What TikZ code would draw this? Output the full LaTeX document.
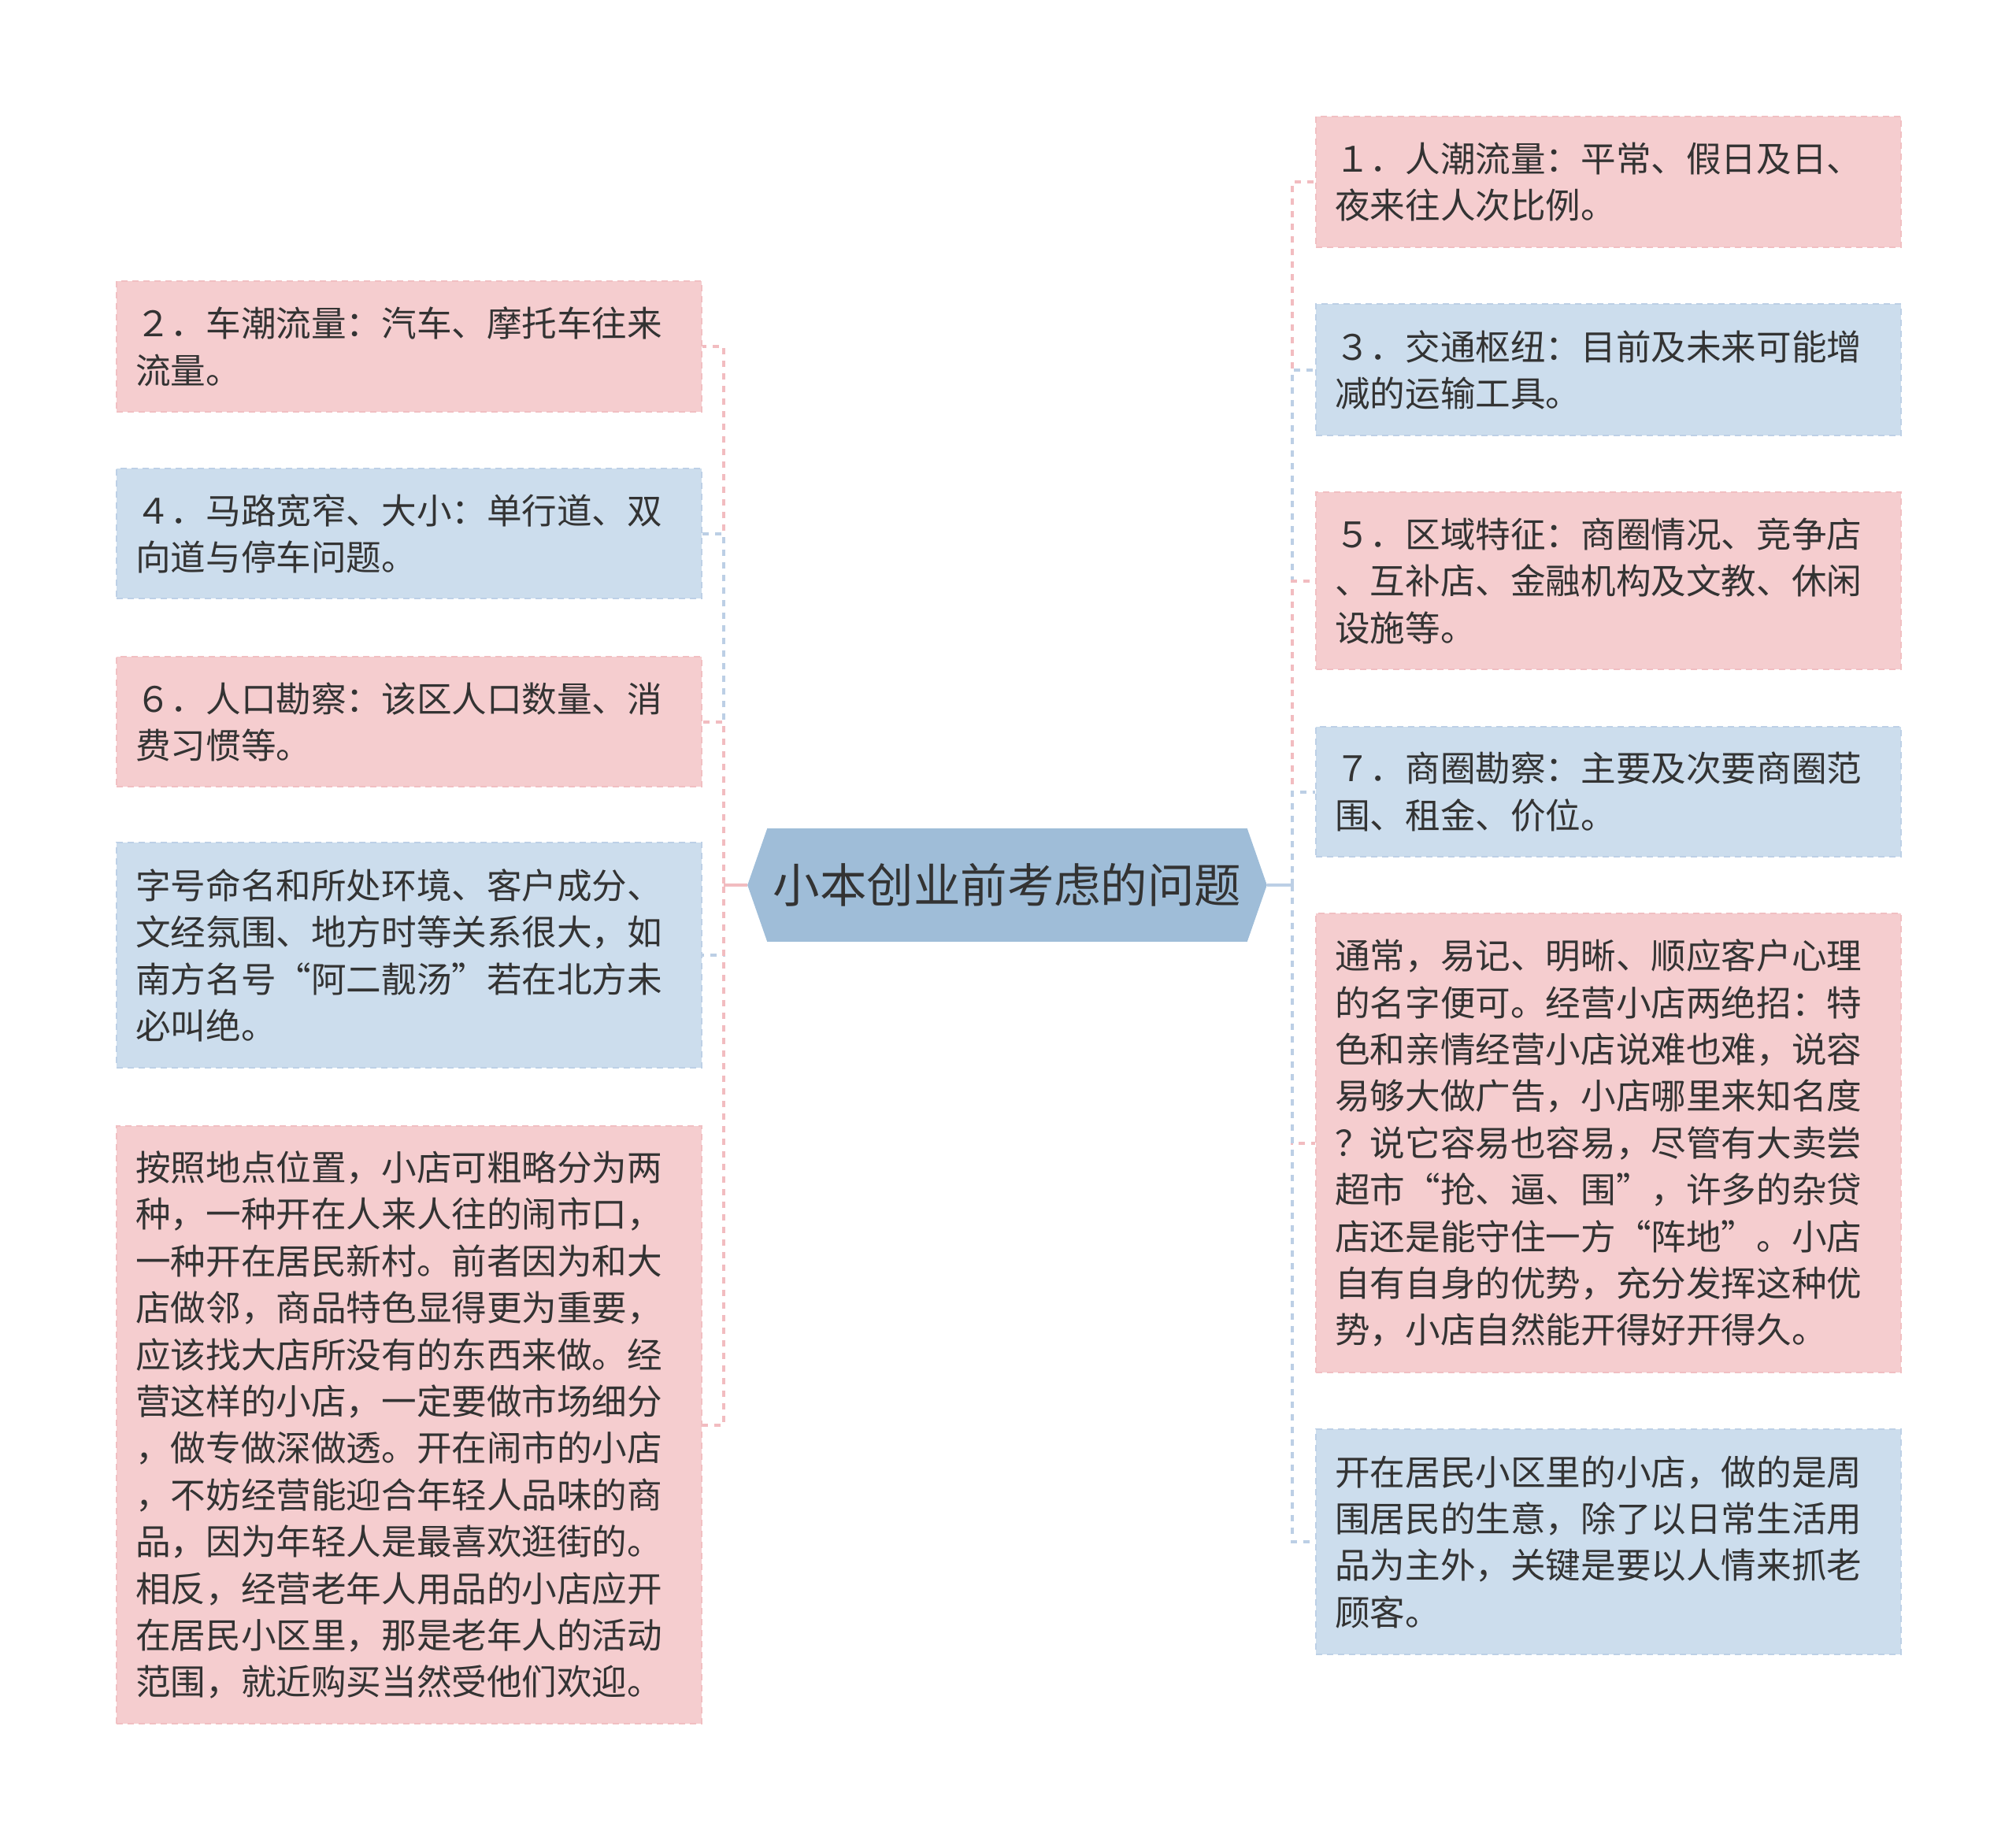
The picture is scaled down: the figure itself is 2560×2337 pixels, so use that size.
\documentclass[tikz,border=0pt]{standalone}
\usepackage{fontspec}
\setmainfont{Noto Sans CJK SC}
\usetikzlibrary{backgrounds}
\definecolor{pinkfill}{HTML}{F5CDCF}
\definecolor{bluefill}{HTML}{CCDDED}
\definecolor{pinkedge}{HTML}{F1BFC2}
\definecolor{blueedge}{HTML}{BDD0E6}
\definecolor{centerfill}{HTML}{9FBDD8}
\definecolor{pinkline}{HTML}{F2BCC0}
\definecolor{blueline}{HTML}{BCCFE5}
\definecolor{txt}{HTML}{333333}
\begin{document}
\begin{tikzpicture}[x=0.25pt,y=-0.25pt,
  box/.style={anchor=north west, text width=173.75pt, inner xsep=6pt, inner ysep=6pt,
    align=left, text=txt, font=\fontsize{11.15pt}{14.85pt}\selectfont,
    line width=0.6pt, dash pattern=on 2pt off 1.5pt},
  pinkbox/.style={box, fill=pinkfill, draw=pinkedge, preaction={draw=white, solid, line width=0.6pt}},
  bluebox/.style={box, fill=bluefill, draw=blueedge, preaction={draw=white, solid, line width=0.6pt}},
  conn/.style={line width=1pt, dash pattern=on 2pt off 2pt},
  pconn/.style={conn, draw=pinkline},
  bconn/.style={conn, draw=blueline}
]
\useasboundingbox (0,0) rectangle (2560,2337);

% central node
\node[text=txt, font=\fontsize{14.86pt}{18pt}\selectfont, minimum width=164.5pt, minimum height=35.5pt, inner sep=0pt] (c) at (1279,1124) {小本创业前考虑的问题};
\begin{scope}[on background layer]
\fill[centerfill] (c.west) -- ([xshift=6.25pt]c.north west) -- ([xshift=-6.25pt]c.north east) -- (c.east) -- ([xshift=-6.25pt]c.south east) -- ([xshift=6.25pt]c.south west) -- cycle;
\end{scope}

% left boxes
\node[pinkbox, minimum height=41.5pt] (L1) at (147,356) {２．车潮流量：汽车、摩托车往来\\流量。};
\node[bluebox, minimum height=41.25pt] (L2) at (147,594) {４．马路宽窄、大小：单行道、双\\向道与停车问题。};
\node[pinkbox, minimum height=41.25pt] (L3) at (147,833) {６．人口勘察：该区人口数量、消\\费习惯等。};
\node[bluebox, minimum height=71.5pt] (L4) at (147,1069) {字号命名和所处环境、客户成分、\\文经氛围、地方时等关系很大，如\\南方名号“阿二靓汤”若在北方未\\必叫绝。};
\node[pinkbox, minimum height=189.75pt] (L5) at (147,1429) {按照地点位置，小店可粗略分为两\\种，一种开在人来人往的闹市口，\\一种开在居民新村。前者因为和大\\店做邻，商品特色显得更为重要，\\应该找大店所没有的东西来做。经\\营这样的小店，一定要做市场细分\\，做专做深做透。开在闹市的小店\\，不妨经营能迎合年轻人品味的商\\品，因为年轻人是最喜欢逛街的。\\相反，经营老年人用品的小店应开\\在居民小区里，那是老年人的活动\\范围，就近购买当然受他们欢迎。};

% right boxes
\node[pinkbox, minimum height=41.5pt] (R1) at (1670,147) {１．人潮流量：平常、假日及日、\\夜来往人次比例。};
\node[bluebox, minimum height=41.75pt] (R2) at (1670,385) {３．交通枢纽：目前及未来可能增\\减的运输工具。};
\node[pinkbox, minimum height=56.25pt] (R3) at (1670,624) {５．区域特征：商圈情况、竞争店\\、互补店、金融机构及文教、休闲\\设施等。};
\node[bluebox, minimum height=41.25pt] (R4) at (1670,922) {７．商圈勘察：主要及次要商圈范\\围、租金、价位。};
\node[pinkbox, minimum height=145.75pt] (R5) at (1670,1159) {通常，易记、明晰、顺应客户心理\\的名字便可。经营小店两绝招：特\\色和亲情经营小店说难也难，说容\\易够大做广告，小店哪里来知名度\\？说它容易也容易，尽管有大卖尝\\超市“抢、逼、围”，许多的杂贷\\店还是能守住一方“阵地”。小店\\自有自身的优势，充分发挥这种优\\势，小店自然能开得好开得久。};
\node[bluebox, minimum height=71.5pt] (R6) at (1670,1814) {开在居民小区里的小店，做的是周\\围居民的生意，除了以日常生活用\\品为主外，关键是要以人情来抓老\\顾客。};

% connectors
\coordinate (lj) at (919,1124);
\coordinate (rj) at (1641,1124);
\draw[pconn] (c.west) -- (lj) |- (L1.east);
\draw[bconn] (c.west) -- (lj) |- (L2.east);
\draw[pconn] (c.west) -- (lj) |- (L3.east);
\draw[bconn] (c.west) -- (lj) |- (L4.east);
\draw[pconn] (c.west) -- (lj) |- (L5.east);
\draw[pinkline, line width=1pt] (c.west) -- (lj);

\draw[pconn] (c.east) -- (rj) |- (R1.west);
\draw[bconn] (c.east) -- (rj) |- (R2.west);
\draw[pconn] (c.east) -- (rj) |- (R3.west);
\draw[bconn] (c.east) -- (rj) |- (R4.west);
\draw[pconn] (c.east) -- (rj) |- (R5.west);
\draw[bconn] (c.east) -- (rj) |- (R6.west);
\draw[blueline, line width=1pt] (c.east) -- (rj);
\end{tikzpicture}
\end{document}
